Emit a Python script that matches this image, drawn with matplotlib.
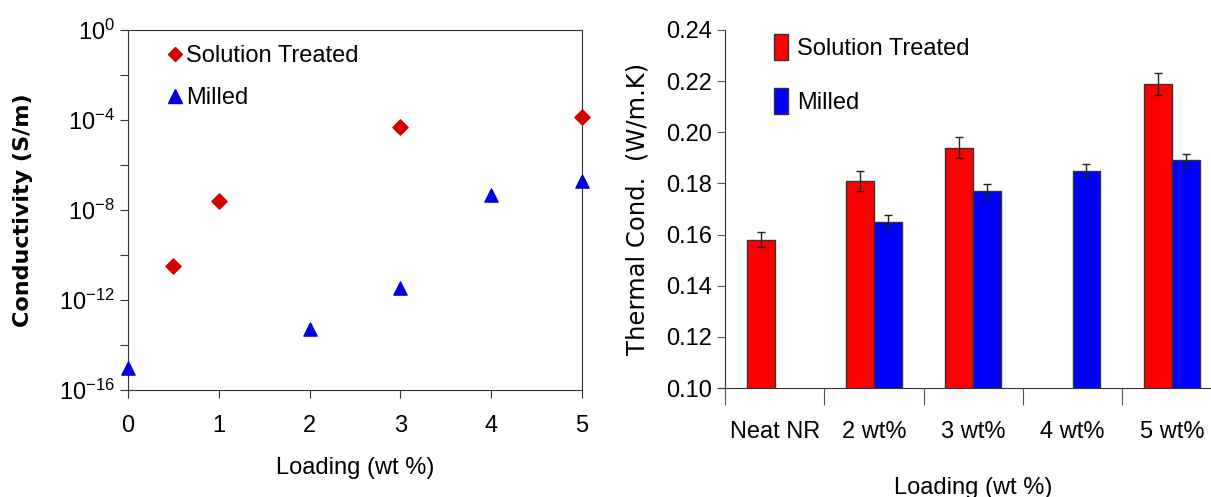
import matplotlib
matplotlib.use("Agg")
import matplotlib.pyplot as plt
import numpy as np
from matplotlib.patches import Patch
from matplotlib.lines import Line2D

plt.rcParams['font.family'] = ['Liberation Sans', 'DejaVu Sans']
plt.rcParams['mathtext.default'] = 'regular'

# ---- Left panel data: conductivity ----
st_loading = [0.5, 1, 3, 5]
st_cond = [3.4e-11, 2.5e-8, 4.6e-5, 1.4e-4]
mil_loading = [0, 2, 3, 4, 5]
mil_cond = [1.0e-15, 5e-14, 3.5e-12, 4.5e-8, 2.0e-7]
left_xticks = [0, 1, 2, 3, 4, 5]
left_yticks = [1e0, 1e-2, 1e-4, 1e-6, 1e-8, 1e-10, 1e-12, 1e-14, 1e-16]
left_ylabels = [r'$10^{0}$', '', r'$10^{-4}$', '', r'$10^{-8}$', '', r'$10^{-12}$', '', r'$10^{-16}$']

# ---- Right panel data: thermal conductivity ----
categories = ['Neat NR', '2 wt%', '3 wt%', '4 wt%', '5 wt%']
st_tc = [0.158, 0.181, 0.194, np.nan, 0.219]
st_err = [0.003, 0.004, 0.004, np.nan, 0.0043]
mil_tc = [np.nan, 0.165, 0.177, 0.185, 0.189]
mil_err = [np.nan, 0.0026, 0.0027, 0.0025, 0.0026]
right_yticks = [0.10, 0.12, 0.14, 0.16, 0.18, 0.20, 0.22, 0.24]

fig = plt.figure(figsize=(12.11, 4.97), dpi=100)

# Left axes
ax1 = fig.add_axes([0.1057, 0.215, 0.375, 0.725])
ax1.set_yscale('log')
ax1.scatter(st_loading, st_cond, marker='D', s=60, color='#D00000', zorder=3, clip_on=False)
ax1.scatter(mil_loading, mil_cond, marker='^', s=90, color='#0000DD', zorder=3, clip_on=False)
ax1.set_xlim(0, 5)
ax1.set_ylim(1e-16, 1e0)
ax1.set_xticks(left_xticks)
ax1.set_xticklabels([str(v) for v in left_xticks])
ax1.set_yticks(left_yticks)
ax1.set_yticklabels(left_ylabels)
ax1.yaxis.set_minor_locator(matplotlib.ticker.NullLocator())
ax1.tick_params(axis='both', direction='out', labelsize=17, length=6, color='#333333')
ax1.tick_params(axis='x', pad=12)
for s in ax1.spines.values():
    s.set_color('#333333')
ax1.set_xlabel('Loading (wt %)', fontsize=17, labelpad=14)
ax1.set_ylabel('Conductivity (S/m)', fontsize=16, fontweight='bold',
               family=['DejaVu Sans'], labelpad=19)
h1 = [Line2D([], [], marker='D', ls='', color='#D00000', markersize=7),
      Line2D([], [], marker='^', ls='', color='#0000DD', markersize=10)]
ax1.legend(h1, ['Solution Treated', 'Milled'], loc='upper left', frameon=False,
           fontsize=17, handletextpad=0.0, labelspacing=0.85,
           bbox_to_anchor=(0.03, 1.016), handlelength=1.0)

# Right axes
ax2 = fig.add_axes([0.5987, 0.219, 0.41, 0.721])
x = np.arange(len(categories))
w = 0.28
ax2.bar(x - w/2, st_tc, width=w, color='#FF0000', edgecolor='#333333', linewidth=1.0,
        yerr=st_err, error_kw=dict(ecolor='#222222', elinewidth=1, capsize=3, capthick=1))
ax2.bar(x + w/2, mil_tc, width=w, color='#0000FF', edgecolor='#333333', linewidth=1.0,
        yerr=mil_err, error_kw=dict(ecolor='#222222', elinewidth=1, capsize=3, capthick=1))
ax2.set_xlim(-0.5, 4.5)
ax2.set_ylim(0.10, 0.24)
ax2.set_yticks(right_yticks)
ax2.set_yticklabels(['%.2f' % v for v in right_yticks])
ax2.set_xticks(x, minor=True)
ax2.set_xticklabels(categories, minor=True)
ax2.set_xticks(np.arange(-0.5, 4.0, 1.0))
ax2.set_xticklabels([])
ax2.tick_params(axis='x', which='minor', length=0, labelsize=17, pad=24)
ax2.tick_params(axis='x', which='major', length=12, direction='out', color='#555555')
ax2.tick_params(axis='y', labelsize=17, direction='out', length=6, color='#555555')
ax2.spines['top'].set_visible(False)
ax2.spines['right'].set_visible(False)
ax2.spines['left'].set_color('#333333')
ax2.spines['bottom'].set_color('#333333')
ax2.spines['bottom'].set_bounds(-0.57, 4.5)
ax2.set_xlabel('Loading (wt %)', fontsize=17, labelpad=24)
ax2.set_ylabel('Thermal Cond.  (W/m.K)', fontsize=17.5,
               family=['DejaVu Sans'], labelpad=12)
h2 = [Patch(facecolor='#FF0000', edgecolor='#333333'),
      Patch(facecolor='#0000FF', edgecolor='#333333')]
ax2.legend(h2, ['Solution Treated', 'Milled'], loc='upper left', frameon=False,
           fontsize=17, handletextpad=0.4, labelspacing=1.2, handlelength=0.6,
           handleheight=1.3, bbox_to_anchor=(0.055, 1.048))

fig.savefig('out.png', dpi=100)
